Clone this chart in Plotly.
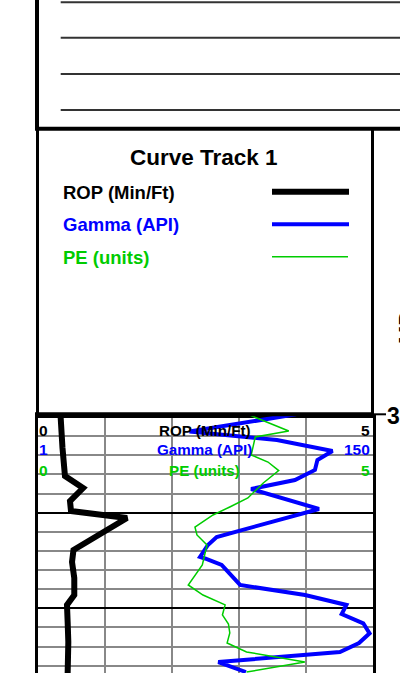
import plotly.graph_objects as go

# ---------------- data ----------------
rop_depth = [2999.71, 3001.35, 3003.23, 3006.16, 3007.42, 3008.78, 3009.82, 3010.55,
             3012.33, 3013.90, 3015.16, 3016.83, 3018.61, 3019.65, 3021.43, 3023.53, 3026.77]
rop_values = [0.343, 0.351, 0.373, 0.41, 0.68, 0.485, 0.50, 1.336,
              0.90, 0.537, 0.515, 0.549, 0.549, 0.44, 0.45, 0.46, 0.45]

gamma_depth = [2999.71, 3001.51, 3002.40, 3003.55, 3004.49, 3005.53, 3006.58, 3007.52,
               3009.61, 3012.54, 3013.38, 3014.63, 3014.79, 3015.47, 3017.56, 3018.61,
               3019.65, 3020.60, 3021.57, 3022.62, 3023.63, 3024.57, 3025.62, 3026.67]
gamma_values = [116.0, 68.6, 107.5, 132.2, 125.5, 124.4, 115.5, 96.0,
                126.2, 80.7, 76.8, 73.3, 75.5, 82.9, 91.1, 120.0,
                138.4, 136.3, 145.9, 148.7, 144.0, 135.5, 81.4, 93.7]

pe_depth = [2999.71, 3001.45, 3002.08, 3003.96, 3004.70, 3005.59, 3006.89, 3008.46,
            3009.40, 3010.24, 3011.50, 3012.33, 3013.38, 3015.47, 3017.56, 3018.61,
            3019.65, 3020.70, 3021.64, 3022.58, 3023.63, 3024.57, 3025.62, 3026.67]
pe_values = [3.14, 3.75, 3.25, 3.19, 3.44, 3.60, 3.37, 3.14,
             2.87, 2.62, 2.35, 2.38, 2.53, 2.46, 2.25, 2.47,
             2.80, 2.76, 2.85, 2.87, 2.83, 3.12, 3.99, 3.12]

rop_scale = [0, 5]
gamma_scale = [1, 150]
pe_scale = [0, 5]
depth_range = [3026.77, 2999.707]
track_title = "Curve Track 1"
curve_names = ["ROP (Min/Ft)", "Gamma (API)", "PE (units)"]
depth_label = "3000"
depth_header = "MD"

# ---------------- styling ----------------
W, H = 400, 673
BLACK, BLUE, GREEN = "#000000", "#0000FF", "#00CC00"
FONT = "Liberation Sans, Arial, sans-serif"


def X(px):
    return px / W


def Y(py):
    return 1 - py / H


fig = go.Figure()
fig.add_trace(go.Scatter(x=rop_values, y=rop_depth, mode="lines", xaxis="x", yaxis="y",
                         line=dict(color=BLACK, width=6), hoverinfo="skip"))
fig.add_trace(go.Scatter(x=gamma_values, y=gamma_depth, mode="lines", xaxis="x2", yaxis="y",
                         line=dict(color=BLUE, width=4), hoverinfo="skip"))
fig.add_trace(go.Scatter(x=pe_values, y=pe_depth, mode="lines", xaxis="x3", yaxis="y",
                         line=dict(color=GREEN, width=1.5), hoverinfo="skip"))

track_dom = [X(37.5), X(372.5)]
fig.update_layout(
    width=W, height=H, margin=dict(l=0, r=0, t=0, b=0),
    paper_bgcolor="white", plot_bgcolor="white", showlegend=False,
    xaxis=dict(domain=track_dom, range=rop_scale, anchor="y", showgrid=True, dtick=1,
               gridcolor="#888888", gridwidth=2, showticklabels=False, ticks="",
               zeroline=False, showline=False),
    xaxis2=dict(overlaying="x", range=gamma_scale, visible=False, anchor="y"),
    xaxis3=dict(overlaying="x", range=pe_scale, visible=False, anchor="y"),
    yaxis=dict(domain=[0, Y(414.3)], range=depth_range, showgrid=True, dtick=10, tick0=3000,
               gridcolor=BLACK, gridwidth=2,
               minor=dict(dtick=2, tick0=3000, showgrid=True, gridcolor="#888888", gridwidth=2),
               showticklabels=False, ticks="", zeroline=False,
               showline=True, linewidth=3, linecolor=BLACK, mirror=True),
)

shapes = []


def line(x0, y0, x1, y1, color=BLACK, width=2):
    shapes.append(dict(type="line", xref="paper", yref="paper", x0=X(x0), y0=Y(y0),
                       x1=X(x1), y1=Y(y1), line=dict(color=color, width=width)))


# top header form
line(37, 0, 37, 129, width=4)
for yy in [2.3, 37.7, 74, 110]:
    line(60.7, yy, 400, yy, color="#333333", width=2)
line(35, 128.8, 400, 128.8, width=4)
# curve track header box
line(37.5, 128, 37.5, 415, width=3)
line(372.5, 128, 372.5, 415, width=3)
line(35, 414.3, 373, 414.3, width=4)
line(373, 414.3, 386, 414.3, width=2)
# legend sample lines
line(272, 191.7, 349, 191.7, color=BLACK, width=6)
line(272, 224.3, 349, 224.3, color=BLUE, width=4)
line(272, 256.7, 348, 256.7, color=GREEN, width=1.5)
fig.update_layout(shapes=shapes)

ann = []


def text(t, x, y, size, color=BLACK, xanchor="center", angle=0):
    ann.append(dict(text="<b>" + t + "</b>", x=X(x), y=Y(y), xref="paper", yref="paper",
                    xanchor=xanchor, yanchor="middle", showarrow=False, textangle=angle,
                    font=dict(family=FONT, size=size, color=color)))


text(track_title, 204, 157, 22.5)
legend_colors = [BLACK, BLUE, GREEN]
for name, col, yy in zip(curve_names, legend_colors, [192, 224.5, 257]):
    text(name, 61, yy, 18.5, col, xanchor="left")

scales = [rop_scale, gamma_scale, pe_scale]
for name, col, sc, yy in zip(curve_names, legend_colors, scales, [430.5, 450, 471]):
    text(str(sc[0]), 36.5, yy, 15.5, col, xanchor="left")
    text(str(sc[1]), 372, yy, 15.5, col, xanchor="right")
    text(name, 205, yy, 15.2, col)

text(depth_label, 385, 415.5, 23, xanchor="left")
text(depth_header, 406, 327, 22, angle=-90)
fig.update_layout(annotations=ann)

fig.write_html("out.html", config={"displayModeBar": False},
               post_script="document.body.style.margin='0';document.body.style.padding='0';")
